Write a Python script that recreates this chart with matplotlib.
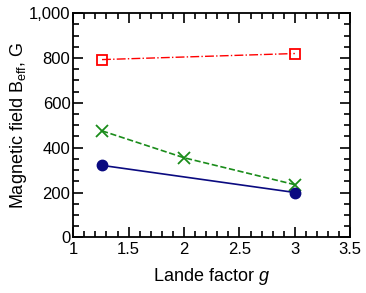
import numpy as np
import matplotlib.pyplot as plt
from matplotlib.ticker import MultipleLocator, FuncFormatter

plt.rcParams['font.family'] = ['Liberation Sans', 'DejaVu Sans']
plt.rcParams['mathtext.fontset'] = 'custom'
plt.rcParams['mathtext.rm'] = 'Liberation Sans'
plt.rcParams['mathtext.it'] = 'Liberation Sans:italic'

g_red = [1.26, 3.0]
b_red = [793, 820]
g_green = [1.26, 2.0, 3.0]
b_green = [475, 355, 235]
g_blue = [1.26, 3.0]
b_blue = [321, 200]

fig = plt.figure(figsize=(3.66, 2.93), dpi=100)
ax = fig.add_axes([0.2, 0.19, 0.757, 0.765])

ax.plot(g_red, b_red, color='red', ls='-.', lw=1, marker='s', ms=7.5,
        mfc='none', mec='red', mew=1.3)
ax.plot(g_green, b_green, color='#1a8c1a', ls='--', lw=1.2, marker='x', ms=8.5,
        mew=1.3)
ax.plot(g_blue, b_blue, color='#0a0a80', ls='-', lw=1.2, marker='o', ms=7.5)

ax.set_xlim(1, 3.5)
ax.set_ylim(0, 1000)
ax.xaxis.set_major_locator(MultipleLocator(0.5))
ax.xaxis.set_minor_locator(MultipleLocator(0.1))
ax.yaxis.set_major_locator(MultipleLocator(200))
ax.yaxis.set_minor_locator(MultipleLocator(50))
ax.xaxis.set_major_formatter(FuncFormatter(lambda v, p: f'{v:g}'))
ax.yaxis.set_major_formatter(FuncFormatter(lambda v, p: f'{int(v):,}'))
ax.tick_params(which='both', direction='in', top=True, right=True,
               labelsize=12, width=1.2)
ax.tick_params(which='major', length=7)
ax.tick_params(which='minor', length=4)
ax.tick_params(axis='y', pad=2)
for s in ax.spines.values():
    s.set_linewidth(1.3)

ax.set_xlabel('Lande factor $g$', fontsize=13, labelpad=6)
ax.set_ylabel('Magnetic field B$_{\\rm eff}$, G', fontsize=13, labelpad=0)

fig.savefig('out.png', dpi=100)
